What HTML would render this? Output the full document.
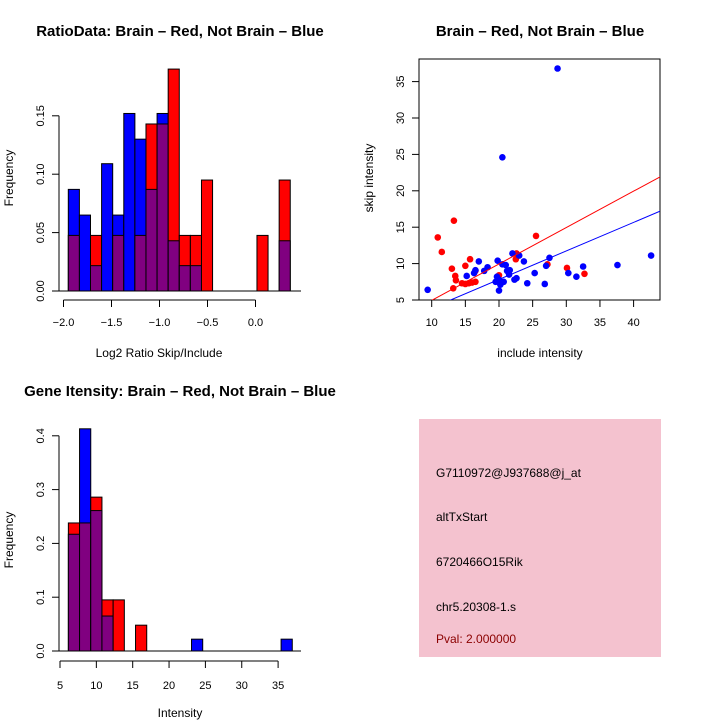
<!DOCTYPE html>
<html><head><meta charset="utf-8">
<style>
body{margin:0;background:#fff;}
svg{display:block;font-family:"Liberation Sans",Arial,sans-serif;}
</style></head>
<body>
<svg id="chart" width="720" height="720" viewBox="0 0 720 720">
<rect width="720" height="720" fill="#fff"/>
<text x="180" y="36" text-anchor="middle" font-size="15" font-weight="bold">RatioData: Brain – Red, Not Brain – Blue</text>
<text x="540" y="36" text-anchor="middle" font-size="15" font-weight="bold">Brain – Red, Not Brain – Blue</text>
<text x="180" y="396" text-anchor="middle" font-size="15" font-weight="bold">Gene Itensity: Brain – Red, Not Brain – Blue</text>
<text x="159" y="357" text-anchor="middle" font-size="12">Log2 Ratio Skip/Include</text>
<text transform="translate(13,178) rotate(-90)" text-anchor="middle" font-size="12">Frequency</text>
<text x="540" y="357" text-anchor="middle" font-size="12">include intensity</text>
<text transform="translate(373,178) rotate(-90)" text-anchor="middle" font-size="12">skip intensity</text>
<text x="180" y="717" text-anchor="middle" font-size="12">Intensity</text>
<text transform="translate(13,540) rotate(-90)" text-anchor="middle" font-size="12">Frequency</text>
<g>
<rect x="419" y="419" width="242" height="238" fill="#f4c2cf"/>
<text x="436" y="477" font-size="12">G7110972@J937688@j_at</text>
<text x="436" y="521" font-size="12">altTxStart</text>
<text x="436" y="566" font-size="12">6720466O15Rik</text>
<text x="436" y="611" font-size="12">chr5.20308-1.s</text>
<text x="436" y="643" font-size="12" fill="#8b0000">Pval: 2.000000</text>
</g>
</svg>
<script>
// Ratio histogram data
const ratioBinStart = -1.95;
const ratioBinWidth = 0.1156;
const ratioRed  = [0.0476,0,0.0476,0,0.0476,0,0.0476,0.143,0.143,0.19,0.0476,0.0476,0.095,0,0,0,0,0.0476,0,0.095];
const ratioBlue = [0.087,0.065,0.0217,0.109,0.065,0.152,0.130,0.087,0.152,0.043,0.0217,0.0217,0,0,0,0,0,0,0,0.043];
const ratioXTicks = [-2.0,-1.5,-1.0,-0.5,0.0];
const ratioXLabels = ["−2.0","−1.5","−1.0","−0.5","0.0"];
const ratioYTicks = [0,0.05,0.10,0.15];
const ratioYLabels = ["0.00","0.05","0.10","0.15"];
// Intensity histogram data
const intBinStart = 6.15;
const intBinWidth = 1.54;
const intRed  = [0.238,0.238,0.286,0.095,0.095,0,0.048,0,0,0,0,0,0,0,0,0,0,0,0,0];
const intBlue = [0.217,0.413,0.261,0.065,0,0,0,0,0,0,0,0.022,0,0,0,0,0,0,0,0.022];
const intXTicks = [5,10,15,20,25,30,35];
const intYTicks = [0,0.1,0.2,0.3,0.4];
const intYLabels = ["0.0","0.1","0.2","0.3","0.4"];
// Scatter data
const redX = [10.9,11.5,13,13.3,13.2,13.5,13.6,14.5,15,15,15.5,15.7,16,16.5,16.5,20,22.5,22.6,25.5,27.2,30.1,32.7];
const redY = [13.6,11.6,9.3,15.9,6.6,8.3,7.7,7.3,9.7,7.2,7.3,10.6,7.4,7.5,9.0,8.4,10.6,11.4,13.8,9.9,9.4,8.6];
const blueX = [9.4,15.2,16.3,16.5,17,17.8,18.3,19.5,19.7,19.8,20,20,20.2,20.5,20.5,20.7,21,21.2,21.5,21.6,22,22.3,22.6,23,23.7,24.2,25.3,26.8,27,27.5,28.7,30.3,31.5,32.5,37.6,42.6];
const blueY = [6.4,8.3,8.7,9.1,10.3,9,9.5,7.5,8.2,10.4,6.3,7.8,7.1,9.9,24.6,7.5,9.8,9,8.5,9.1,11.4,7.8,8,11.1,10.3,7.3,8.7,7.2,9.7,10.8,36.8,8.7,8.2,9.6,9.8,11.1];
const scatterXTicks = [10,15,20,25,30,35,40];
const scatterYTicks = [5,10,15,20,25,30,35];
const redLine = [-0.05,0.5];   // intercept, slope
const blueLine = [-0.02,0.392];

const NS="http://www.w3.org/2000/svg";
const svg=document.getElementById('chart');
function mk(tag,attrs,parent){const e=document.createElementNS(NS,tag);for(const k in attrs)e.setAttribute(k,attrs[k]);(parent||svg).appendChild(e);return e;}

// ---- ratio histogram
const rx=v=>63.5+(v+2)*96, ry=v=>291-v*1168;
const g1=mk('g',{});


function drawHist(g,red,blue,start,w,xf,yf,nm){
  for(let i=0;i<red.length;i++){
    const x0=xf(start+i*w), x1=xf(start+(i+1)*w);
    const r=red[i], b=blue[i];
    const mx=Math.max(r,b), mn=Math.min(r,b);
    if(mx>0){
      const e=mk('rect',{x:x0,y:yf(mx),width:x1-x0,height:yf(0)-yf(mx),fill:r>=b?'#ff0000':'#0000ff',stroke:'#000','stroke-width':1},g);
      
      
    }
    if(mn>0){
      const e=mk('rect',{x:x0,y:yf(mn),width:x1-x0,height:yf(0)-yf(mn),fill:'#800080',stroke:'#000','stroke-width':1},g);
      
      
    }
  }
}
drawHist(g1,ratioRed,ratioBlue,ratioBinStart,ratioBinWidth,rx,ry,'ratio');
mk('line',{x1:59,y1:ry(0),x2:301,y2:ry(0),stroke:'#000'},g1);
mk('line',{x1:59,y1:ry(0),x2:59,y2:ry(0.15),stroke:'#000'},g1);
ratioYTicks.forEach((v,i)=>{mk('line',{x1:52,y1:ry(v),x2:59,y2:ry(v),stroke:'#000'},g1);
  const t=mk('text',{transform:`translate(44,${ry(v)}) rotate(-90)`,'text-anchor':'middle','font-size':11},g1);t.textContent=ratioYLabels[i];
  });
mk('line',{x1:rx(-2),y1:300,x2:rx(0),y2:300,stroke:'#000'},g1);
ratioXTicks.forEach((v,i)=>{mk('line',{x1:rx(v),y1:300,x2:rx(v),y2:307,stroke:'#000'},g1);
  const t=mk('text',{x:rx(v),y:326,'text-anchor':'middle','font-size':11},g1);t.textContent=ratioXLabels[i];
  });

// ---- intensity histogram
const ix=v=>60+(v-5)*7.27, iy=v=>651-v*538;
const g3=mk('g',{});


drawHist(g3,intRed,intBlue,intBinStart,intBinWidth,ix,iy,'intensity');
mk('line',{x1:59,y1:iy(0),x2:301,y2:iy(0),stroke:'#000'},g3);
mk('line',{x1:59,y1:iy(0),x2:59,y2:iy(0.4),stroke:'#000'},g3);
intYTicks.forEach((v,i)=>{mk('line',{x1:52,y1:iy(v),x2:59,y2:iy(v),stroke:'#000'},g3);
  const t=mk('text',{transform:`translate(44,${iy(v)}) rotate(-90)`,'text-anchor':'middle','font-size':11},g3);t.textContent=intYLabels[i];
  });
mk('line',{x1:ix(5),y1:661,x2:ix(35),y2:661,stroke:'#000'},g3);
intXTicks.forEach(v=>{mk('line',{x1:ix(v),y1:661,x2:ix(v),y2:668,stroke:'#000'},g3);
  const t=mk('text',{x:ix(v),y:689,'text-anchor':'middle','font-size':11},g3);t.textContent=v;
  });

// ---- scatter
const sx=v=>431.7+(v-10)*6.73, sy=v=>300-(v-5)*7.28;
const g2=mk('g',{});


mk('defs',{},g2).innerHTML='<clipPath id="sc"><rect x="419" y="59" width="241" height="241"/></clipPath>';
mk('rect',{x:419,y:59,width:241,height:241,fill:'none',stroke:'#000'},g2);
scatterYTicks.forEach(v=>{mk('line',{x1:412,y1:sy(v),x2:419,y2:sy(v),stroke:'#000'},g2);
  const t=mk('text',{transform:`translate(404,${sy(v)}) rotate(-90)`,'text-anchor':'middle','font-size':11},g2);t.textContent=v;
  });
scatterXTicks.forEach(v=>{mk('line',{x1:sx(v),y1:300,x2:sx(v),y2:307,stroke:'#000'},g2);
  const t=mk('text',{x:sx(v),y:326,'text-anchor':'middle','font-size':11},g2);t.textContent=v;
  });
redX.forEach((x,i)=>{const c=mk('circle',{cx:sx(x),cy:sy(redY[i]),r:3.3,fill:'#ff0000'},g2);
  });
blueX.forEach((x,i)=>{const c=mk('circle',{cx:sx(x),cy:sy(blueY[i]),r:3.3,fill:'#0000ff'},g2);
  });
[[redLine,'#ff0000','brain-fit-line'],[blueLine,'#0000ff','not-brain-fit-line']].forEach(([l,col,nm])=>{
  const xa=5,xb=50;
  const e=mk('line',{x1:sx(xa),y1:sy(l[0]+l[1]*xa),x2:sx(xb),y2:sy(l[0]+l[1]*xb),stroke:col,'stroke-width':1,'clip-path':'url(#sc)'},g2);
  });
</script>
</body></html>
